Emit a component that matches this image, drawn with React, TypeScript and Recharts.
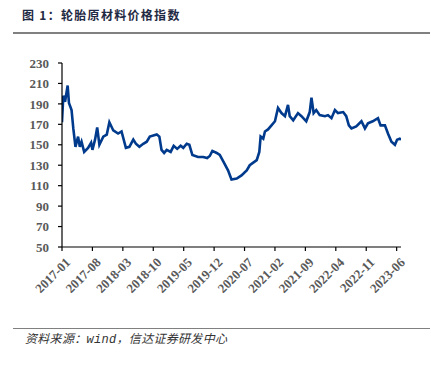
import React from 'react';
import { LineChart, Line, XAxis, YAxis } from 'recharts';

// Dates and index values, one row per year (same count in each matching row)
const dates = [
  // 2017
  '2017-01-01', '2017-01-10', '2017-01-22', '2017-02-10', '2017-02-19', '2017-03-07', '2017-03-19',
  '2017-04-04', '2017-04-22', '2017-05-04', '2017-05-16', '2017-06-04', '2017-07-01', '2017-07-22',
  '2017-08-01', '2017-08-19', '2017-09-04', '2017-09-19', '2017-10-16', '2017-11-10', '2017-11-28',
  '2017-12-25',
  // 2018
  '2018-01-28', '2018-02-22', '2018-03-22', '2018-04-16', '2018-05-13', '2018-06-01', '2018-06-25',
  '2018-07-22', '2018-08-16', '2018-09-07', '2018-10-25', '2018-11-13', '2018-11-28', '2018-12-16',
  // 2019
  '2019-01-04', '2019-02-01', '2019-02-22', '2019-03-16', '2019-04-10', '2019-04-28', '2019-05-22',
  '2019-06-10', '2019-07-01', '2019-08-10', '2019-09-16', '2019-10-13', '2019-11-01', '2019-11-19',
  '2019-12-19',
  // 2020
  '2020-01-10', '2020-02-07', '2020-03-07', '2020-04-01', '2020-05-07', '2020-06-10', '2020-07-16',
  '2020-08-07', '2020-09-25', '2020-10-13', '2020-10-22', '2020-11-10', '2020-11-22', '2020-12-13',
  // 2021
  '2021-01-07', '2021-02-01', '2021-02-22', '2021-03-16', '2021-04-10', '2021-05-01', '2021-05-13',
  '2021-06-07', '2021-07-10', '2021-08-04', '2021-09-07', '2021-10-01', '2021-10-13', '2021-10-28',
  '2021-11-16', '2021-12-10',
  // 2022
  '2022-01-16', '2022-02-07', '2022-03-01', '2022-03-25', '2022-04-16', '2022-05-22', '2022-06-13',
  '2022-07-01', '2022-07-19', '2022-08-22', '2022-09-28', '2022-10-22', '2022-11-13', '2022-12-16',
  // 2023
  '2023-01-22', '2023-02-10', '2023-03-10', '2023-04-01', '2023-04-25', '2023-05-19', '2023-06-04',
  '2023-06-22', '2023-07-01',
];

const values = [
  // 2017
  172, 198, 192, 208, 191, 184, 166,
  148, 158, 148, 153, 143, 147, 152,
  145, 155, 167, 150, 158, 160, 172,
  164,
  // 2018
  161, 163, 147, 148, 155, 151, 148,
  151, 153, 158, 160, 158, 145, 142,
  // 2019
  145, 143, 149, 146, 149, 147, 151,
  150, 140, 138, 138, 137, 139, 144,
  142,
  // 2020
  140, 133, 125, 116, 117, 120, 125,
  130, 135, 143, 158, 156, 163, 165,
  // 2021
  169, 173, 186, 181, 178, 189, 178,
  174, 181, 178, 173, 182, 196, 181,
  184, 179,
  // 2022
  178, 179, 176, 184, 181, 182, 178,
  169, 166, 168, 173, 166, 171, 173,
  // 2023
  176, 169, 169, 161, 153, 150, 155,
  156, 155,
];

const tickLabels = [
  '2017-01', '2017-08', '2018-03', '2018-10', '2019-05', '2019-12',
  '2020-07', '2021-02', '2021-09', '2022-04', '2022-11', '2023-06',
];

const yTicks = [50, 70, 90, 110, 130, 150, 170, 190, 210, 230];

const toT = (d: string) => {
  const [y, m, dd] = d.split('-').map(Number);
  return (y - 2017) * 12 + (m - 1) + ((dd || 1) - 1) / 30;
};

const n = Math.min(dates.length, values.length);
const data = dates.slice(0, n).map((d, i) => ({ t: toT(d), v: values[i] }));
const xTicks = tickLabels.map(toT);

const XTick = (props: any) => {
  const { x, y, payload } = props;
  const idx = xTicks.findIndex((t) => Math.abs(t - payload.value) < 1e-6);
  const label = idx >= 0 ? tickLabels[idx] : '';
  const ax = x + 6;
  const ay = y + 9;
  return (
    <text
      x={ax}
      y={ay}
      transform={`rotate(-45 ${ax} ${ay})`}
      textAnchor="end"
      dominantBaseline="central"
      fontFamily="'Liberation Serif', 'Times New Roman', serif"
      fontWeight="bold"
      fontSize={13}
      fill="#595959"
    >
      {label}
    </text>
  );
};

export default function App() {
  return (
    <div style={{ position: 'absolute', left: 0, top: 0, width: 431, height: 365, background: '#fff' }}>
      <div
        style={{
          position: 'absolute',
          left: 22,
          top: 6,
          fontFamily: "'Noto Sans CJK SC', sans-serif",
          fontWeight: 'bold',
          fontSize: 12,
          letterSpacing: 1.3,
          color: '#1f2a44',
          whiteSpace: 'nowrap',
        }}
      >
        图 1：轮胎原材料价格指数
      </div>
      <div style={{ position: 'absolute', left: 13, top: 32, width: 417, height: 1.5, background: '#808080' }} />
      <div style={{ position: 'absolute', left: 0, top: 0 }}>
        <LineChart width={431} height={365} data={data} margin={{ top: 63, right: 30, left: 12, bottom: 58 }}>
          <XAxis
            dataKey="t"
            type="number"
            domain={[0, 78]}
            ticks={xTicks}
            interval={0}
            tick={<XTick />}
            tickSize={4}
            tickMargin={0}
            height={60}
            axisLine={{ stroke: '#000', strokeWidth: 1.2 }}
            tickLine={{ stroke: '#000', strokeWidth: 1.2 }}
            allowDataOverflow
          />
          <YAxis
            type="number"
            domain={[50, 230]}
            ticks={yTicks}
            interval={0}
            width={50}
            tickSize={4}
            tickMargin={9}
            axisLine={{ stroke: '#000', strokeWidth: 1.2 }}
            tickLine={{ stroke: '#000', strokeWidth: 1.2 }}
            tick={{
              fontFamily: "'Liberation Serif', 'Times New Roman', serif",
              fontWeight: 'bold',
              fontSize: 13,
              fill: '#595959',
            }}
          />
          <Line
            type="linear"
            dataKey="v"
            stroke="#003a8c"
            strokeWidth={2.6}
            dot={false}
            isAnimationActive={false}
          />
        </LineChart>
      </div>
      <div style={{ position: 'absolute', left: 13, top: 327.5, width: 417, height: 1.5, background: '#808080' }} />
      <div
        style={{
          position: 'absolute',
          left: 25,
          top: 329,
          fontFamily: "'Noto Sans CJK SC', serif",
          fontStyle: 'italic',
          fontSize: 12,
          letterSpacing: 0.3,
          color: '#333',
          whiteSpace: 'nowrap',
        }}
      >
        资料来源：<span style={{ fontFamily: "'Liberation Mono', monospace" }}>wind</span>，信达证券研发中心
      </div>
    </div>
  );
}
